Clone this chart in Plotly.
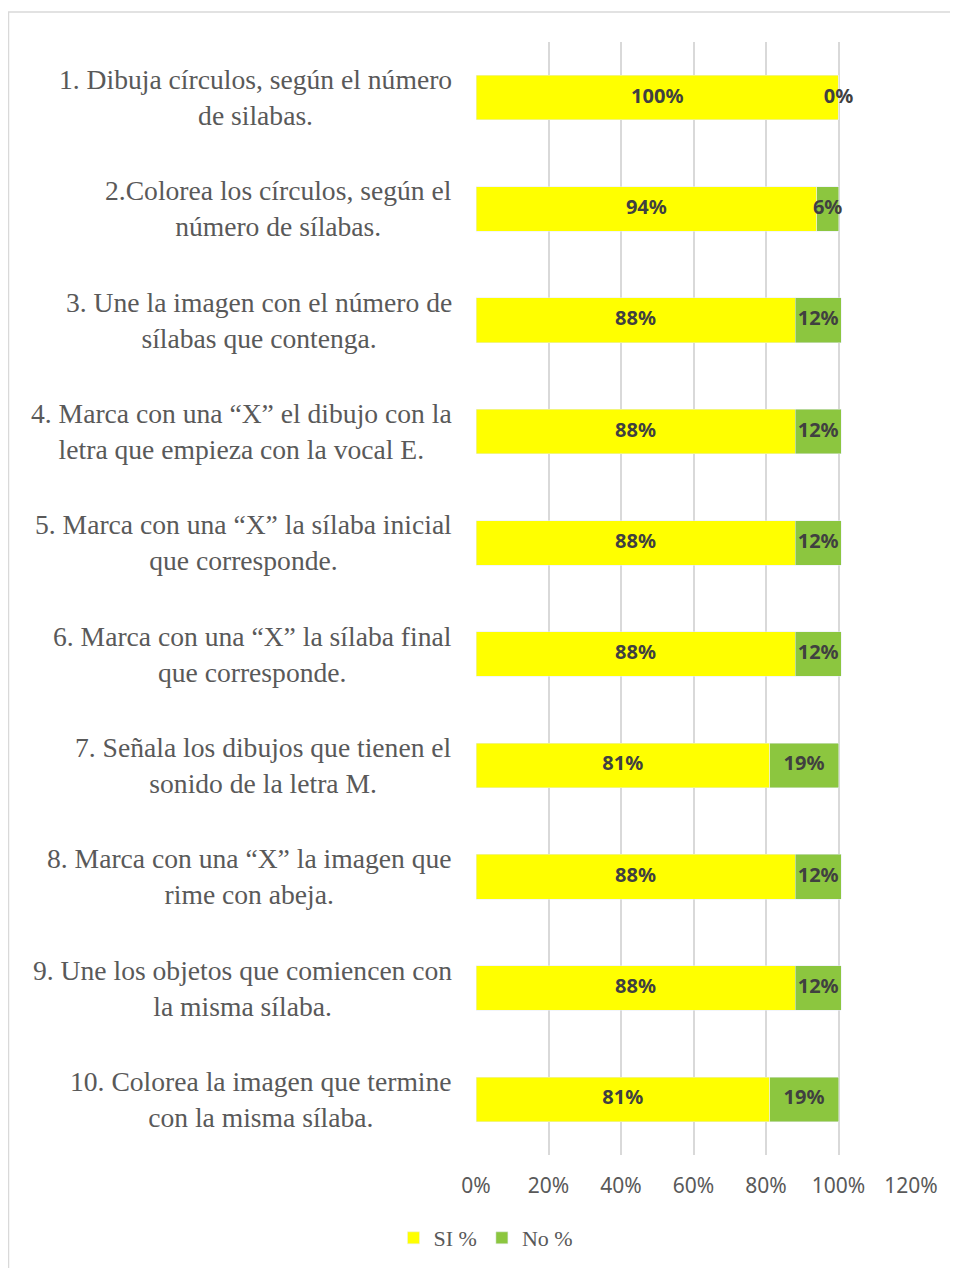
import plotly.graph_objects as go

categories = [
    "1. Dibuja círculos, según el número<br>de silabas.",
    "2.Colorea los círculos, según el<br>número de sílabas.",
    "3. Une la imagen con el número de<br>sílabas que contenga.",
    "4. Marca con una “X” el dibujo con la<br>letra que empieza con la vocal E.",
    "5. Marca con una “X” la sílaba inicial<br>que corresponde.",
    "6. Marca con una “X” la sílaba final<br>que corresponde.",
    "7. Señala los dibujos que tienen el<br>sonido de la letra M.",
    "8. Marca con una “X” la imagen que<br>rime con abeja.",
    "9. Une los objetos que comiencen con<br>la misma sílaba.",
    "10. Colorea la imagen que termine<br>con la misma sílaba.",
]
si_values = [100, 94, 88, 88, 88, 88, 81, 88, 88, 81]
no_values = [0, 6, 12.8, 12.8, 12.8, 12.8, 19, 12.8, 12.8, 19]
si_labels = ["100%", "94%", "88%", "88%", "88%", "88%", "81%", "88%", "88%", "81%"]
no_labels = ["0%", "6%", "12%", "12%", "12%", "12%", "19%", "12%", "12%", "19%"]
tick_values = [0, 20, 40, 60, 80, 100, 120]
tick_labels = ["0%", "20%", "40%", "60%", "80%", "100%", "120%"]

YELLOW = "#FFFF00"
GREEN = "#8CC63F"
SERIF = "Liberation Serif, Times New Roman, serif"
SANS = "Noto Sans, Open Sans, sans-serif"

W, H = 958, 1268
ML, MT, MR, MB = 468, 34, 55, 121
PW = W - ML - MR
PH = H - MT - MB

fig = go.Figure()
fig.add_trace(go.Bar(y=categories, x=si_values, orientation="h", name="SI %",
                     marker=dict(color=YELLOW), hoverinfo="skip"))
fig.add_trace(go.Bar(y=categories, x=no_values, orientation="h", name="No %",
                     marker=dict(color=GREEN), hoverinfo="skip"))

label_font = dict(family=SANS, size=20, color="#404040", weight="bold")
fig.add_trace(go.Scatter(y=categories, x=[s / 2 for s in si_values], mode="text",
                         text=si_labels, textfont=label_font, showlegend=False,
                         cliponaxis=False, hoverinfo="skip"))
fig.add_trace(go.Scatter(y=categories, x=[s + n / 2 for s, n in zip(si_values, no_values)],
                         mode="text", text=no_labels, textfont=label_font,
                         showlegend=False, cliponaxis=False, hoverinfo="skip"))

for c in categories:
    fig.add_annotation(xref="paper", yref="y", x=0, y=c, text=c, showarrow=False,
                       xanchor="right", yanchor="middle", align="center", xshift=-22,
                       font=dict(family=SERIF, size=27.6, color="#595959"))

fig.add_shape(type="rect", xref="paper", yref="paper",
              x0=(0.5 - ML) / PW, x1=(W + 20 - ML) / PW,
              y0=-(MB + 20) / PH, y1=1 + 30 / PH,
              line=dict(color="#D9D9D9", width=1.5), fillcolor="rgba(0,0,0,0)", layer="below")

fig.update_layout(
    width=W, height=H,
    margin=dict(l=ML, r=MR, t=MT, b=MB),
    barmode="stack", bargap=0.6,
    plot_bgcolor="white", paper_bgcolor="white",
    xaxis=dict(range=[0, 120], tickvals=tick_values, ticktext=tick_labels,
               showgrid=True, gridcolor="#D9D9D9", gridwidth=1.5,
               zeroline=False, showline=False,
               ticks="outside", ticklen=12, tickcolor="rgba(0,0,0,0)",
               tickfont=dict(family=SANS, size=21, color="#595959")),
    yaxis=dict(autorange="reversed", showticklabels=False, showgrid=False,
               zeroline=False, showline=False),
    legend=dict(orientation="h", xref="container", yref="container",
                x=478 / W, y=1 - 1230 / H, xanchor="center", yanchor="middle",
                font=dict(family=SERIF, size=22, color="#595959"),
                itemwidth=30, traceorder="normal"),
    showlegend=True,
)

fig.write_html("out.html")
